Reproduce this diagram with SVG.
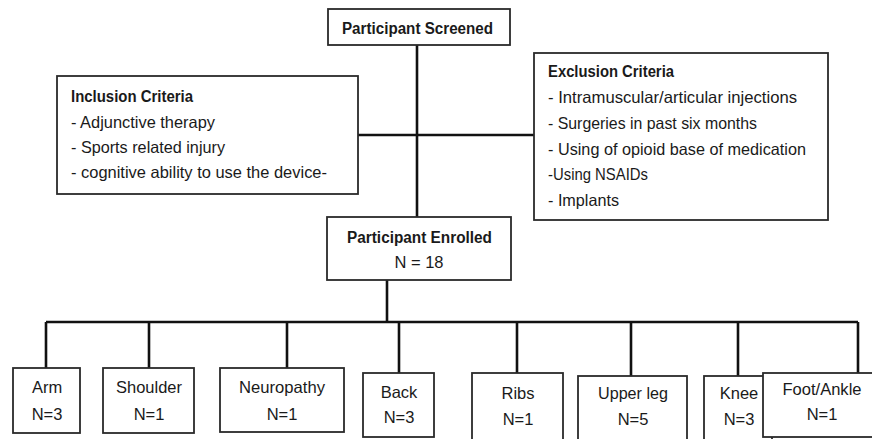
<svg xmlns="http://www.w3.org/2000/svg" width="872" height="439" viewBox="0 0 872 439">
<style>
.box{fill:#fff;stroke:#2a2a2a;stroke-width:1.8}
.c{fill:none;stroke:#111;stroke-width:2.6}
text{font-family:"Liberation Sans",Arial,sans-serif;fill:#1a1a1a}
.t{font-size:16.5px}
.b{font-size:16px;font-weight:bold}
.m{text-anchor:middle}
</style>
<rect width="872" height="439" fill="#fff"/>
<g id="connectors">
<path class="c" d="M417 45V217"/>
<path class="c" d="M358 135H534"/>
<path class="c" d="M387 280V322"/>
<path class="c" d="M46 322H858"/>
<path class="c" d="M46 322V368M149 322V368M287 322V368M399 322V373M517 322V373M631 322V376M738 322V376M858 322V373"/>
</g>
<g id="screened">
<rect class="box" x="328" y="9" width="182" height="36"/>
<text class="b" x="342" y="34" textLength="151" lengthAdjust="spacingAndGlyphs">Participant Screened</text>
</g>
<g id="inclusion">
<rect class="box" x="57" y="76" width="301" height="118"/>
<text class="b" x="71" y="102" textLength="122" lengthAdjust="spacingAndGlyphs">Inclusion Criteria</text>
<text class="t" x="71" y="128" textLength="144" lengthAdjust="spacingAndGlyphs">- Adjunctive therapy</text>
<text class="t" x="71" y="153" textLength="154" lengthAdjust="spacingAndGlyphs">- Sports related injury</text>
<text class="t" x="71" y="178" textLength="256" lengthAdjust="spacingAndGlyphs">- cognitive ability to use the device-</text>
</g>
<g id="exclusion">
<rect class="box" x="534" y="53" width="294" height="167"/>
<text class="b" x="548" y="77" textLength="126" lengthAdjust="spacingAndGlyphs">Exclusion Criteria</text>
<text class="t" x="548" y="103" textLength="249" lengthAdjust="spacingAndGlyphs">- Intramuscular/articular injections</text>
<text class="t" x="548" y="129" textLength="209" lengthAdjust="spacingAndGlyphs">- Surgeries in past six months</text>
<text class="t" x="548" y="155" textLength="258" lengthAdjust="spacingAndGlyphs">- Using of opioid base of medication</text>
<text class="t" x="548" y="180" textLength="100" lengthAdjust="spacingAndGlyphs">-Using NSAIDs</text>
<text class="t" x="548" y="206" textLength="71" lengthAdjust="spacingAndGlyphs">- Implants</text>
</g>
<g id="enrolled">
<rect class="box" x="327" y="217" width="184" height="63"/>
<text class="b m" x="419.5" y="243" textLength="145" lengthAdjust="spacingAndGlyphs">Participant Enrolled</text>
<text class="t m" x="419" y="268">N = 18</text>
</g>
<g id="arm">
<rect class="box" x="13" y="368" width="67" height="65"/>
<text class="t m" x="47" y="393">Arm</text>
<text class="t m" x="47" y="420">N=3</text>
</g>
<g id="shoulder">
<rect class="box" x="103" y="368" width="91" height="65"/>
<text class="t m" x="149" y="393" textLength="66" lengthAdjust="spacingAndGlyphs">Shoulder</text>
<text class="t m" x="149" y="420">N=1</text>
</g>
<g id="neuropathy">
<rect class="box" x="220" y="368" width="124" height="64"/>
<text class="t m" x="282" y="393" textLength="86" lengthAdjust="spacingAndGlyphs">Neuropathy</text>
<text class="t m" x="282" y="420">N=1</text>
</g>
<g id="back">
<rect class="box" x="363" y="373" width="71" height="64"/>
<text class="t m" x="399" y="398">Back</text>
<text class="t m" x="399" y="423">N=3</text>
</g>
<g id="ribs">
<rect class="box" x="472" y="373" width="91" height="70"/>
<text class="t m" x="518" y="399">Ribs</text>
<text class="t m" x="518" y="425">N=1</text>
</g>
<g id="upperleg">
<rect class="box" x="578" y="376" width="109" height="67"/>
<text class="t m" x="633" y="399" textLength="70" lengthAdjust="spacingAndGlyphs">Upper leg</text>
<text class="t m" x="633" y="425">N=5</text>
</g>
<g id="knee">
<rect class="box" x="704" y="376" width="68" height="67"/>
<text class="t m" x="739" y="399">Knee</text>
<text class="t m" x="739" y="425">N=3</text>
</g>
<g id="footankle">
<rect class="box" x="763" y="373" width="120" height="64"/>
<text class="t m" x="822" y="395" textLength="79" lengthAdjust="spacingAndGlyphs">Foot/Ankle</text>
<text class="t m" x="822" y="420">N=1</text>
</g>
</svg>
